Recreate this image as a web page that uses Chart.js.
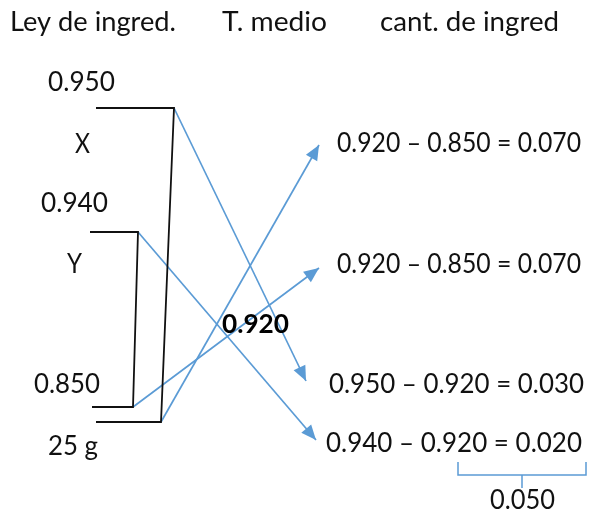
<!DOCTYPE html>
<html>
<head>
<meta charset="utf-8">
<script src="https://cdn.jsdelivr.net/npm/chart.js@4"></script>
<style>
  html, body { margin: 0; padding: 0; background: #fff; }
  #c { display: block; }
</style>
</head>
<body>
<canvas id="c" width="595" height="515"></canvas>
<script>
// values
var columnas = ["Ley de ingred.", "T. medio", "cant. de ingred"];
var leyes = ["0.950", "0.940", "0.850"];
var nombres = ["X", "Y", "25 g"];
var medio = "0.920";
var ecuaciones = [
  "0.920 \u2013 0.850 = 0.070",
  "0.920 \u2013 0.850 = 0.070",
  "0.950 \u2013 0.920 = 0.030",
  "0.940 \u2013 0.920 = 0.020"
];
var suma = "0.050";

// layout (scale units = pixels of the picture)
var black = "#111";
var blue = "#5b9bd5";
var fontFam = "Lato, 'Open Sans', sans-serif";

var corchetes = [
  [{x: 96, y: 108}, {x: 174, y: 108}, {x: 161, y: 422}, {x: 96, y: 422}],
  [{x: 90, y: 232}, {x: 138, y: 232}, {x: 133, y: 407}, {x: 92, y: 407}]
];
var flechas = [
  [{x: 174, y: 108}, {x: 306, y: 381}],
  [{x: 138, y: 232}, {x: 316, y: 440}],
  [{x: 133, y: 407}, {x: 319, y: 268}],
  [{x: 161, y: 422}, {x: 319, y: 145}]
];
var llave = [
  [{x: 458, y: 462}, {x: 458, y: 475}, {x: 586, y: 475}, {x: 586, y: 462}],
  [{x: 522, y: 475}, {x: 522, y: 488}]
];

// text: [string, left x, center y, width, bold]
var textos = [
  [columnas[0], 10, 22, 166],
  [columnas[1], 222, 22, 105],
  [columnas[2], 380, 22, 179],
  [leyes[0], 48, 82, 67],
  [nombres[0], 75, 144, 15],
  [leyes[1], 41, 203, 67],
  [nombres[1], 67, 264, 15],
  [leyes[2], 34, 384, 66],
  [nombres[2], 48, 446, 50],
  [medio, 222, 324, 67, true],
  [ecuaciones[0], 337, 143, 244],
  [ecuaciones[1], 337, 264, 244],
  [ecuaciones[2], 329, 384, 255],
  [ecuaciones[3], 326, 443, 256],
  [suma, 490, 500, 65]
];

var datasets = [];
corchetes.forEach(function (p) {
  datasets.push({ data: p, borderColor: black, borderWidth: 1.8, kind: "line" });
});
flechas.forEach(function (p) {
  datasets.push({ data: p, borderColor: blue, borderWidth: 1.7, kind: "arrow" });
});
llave.forEach(function (p) {
  datasets.push({ data: p, borderColor: blue, borderWidth: 1.5, kind: "line" });
});
datasets.forEach(function (d) {
  d.showLine = true;
  d.pointRadius = 0;
  d.fill = false;
  d.tension = 0;
});

var extras = {
  id: "extras",
  afterDatasetsDraw: function (chart) {
    var ctx = chart.ctx;
    var xs = chart.scales.x, ys = chart.scales.y;
    ctx.save();
    // arrow heads
    chart.data.datasets.forEach(function (d) {
      if (d.kind !== "arrow") return;
      var a = d.data[0], b = d.data[d.data.length - 1];
      var x0 = xs.getPixelForValue(a.x), y0 = ys.getPixelForValue(a.y);
      var x1 = xs.getPixelForValue(b.x), y1 = ys.getPixelForValue(b.y);
      var ang = Math.atan2(y1 - y0, x1 - x0);
      var len = 15, half = 6.5;
      ctx.fillStyle = d.borderColor;
      ctx.beginPath();
      ctx.moveTo(x1, y1);
      ctx.lineTo(x1 - len * Math.cos(ang) + half * Math.sin(ang), y1 - len * Math.sin(ang) - half * Math.cos(ang));
      ctx.lineTo(x1 - len * Math.cos(ang) - half * Math.sin(ang), y1 - len * Math.sin(ang) + half * Math.cos(ang));
      ctx.closePath();
      ctx.fill();
    });
    // labels
    ctx.textBaseline = "middle";
    ctx.textAlign = "left";
    textos.forEach(function (t) {
      ctx.font = (t[4] ? "bold " : "") + "26px " + fontFam;
      ctx.fillStyle = t[4] ? "#000" : black;
      var x = xs.getPixelForValue(t[1]), y = ys.getPixelForValue(t[2]);
      var w = ctx.measureText(t[0]).width;
      ctx.save();
      ctx.translate(x, y);
      ctx.scale(t[3] / w, 1);
      ctx.fillText(t[0], 0, 1);
      ctx.restore();
    });
    ctx.restore();
  }
};

new Chart(document.getElementById("c"), {
  type: "scatter",
  data: { datasets: datasets },
  options: {
    responsive: false,
    animation: false,
    layout: { padding: 0 },
    plugins: { legend: { display: false }, tooltip: { enabled: false } },
    scales: {
      x: { type: "linear", min: 0, max: 595, display: false },
      y: { type: "linear", min: 0, max: 515, reverse: true, display: false }
    }
  },
  plugins: [extras]
});
</script>
</body>
</html>
